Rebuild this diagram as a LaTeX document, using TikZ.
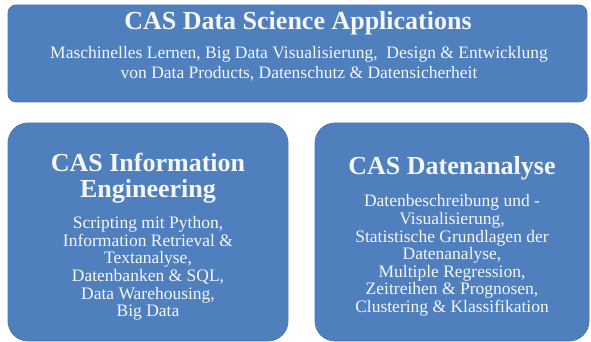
\documentclass[tikz,border=0pt]{standalone}
\usepackage{fontspec}
\setmainfont{Liberation Serif}
\definecolor{boxblue}{HTML}{4F80BD}
\definecolor{boxblueD}{HTML}{4A7AB6}
\definecolor{txt}{HTML}{F4F6FA}
\begin{document}
\begin{tikzpicture}[x=1pt,y=1pt,
  panel/.style={fill=boxblue, draw=boxblueD, line width=0.8pt},
  title/.style={text=txt, font=\bfseries\fontsize{26}{26}\selectfont, align=center, inner sep=0pt},
  body/.style={text=txt, font=\fontsize{17.5}{17.6}\selectfont, align=center, inner sep=0pt}]
\useasboundingbox (0,0) rectangle (591,-342);
\fill[white] (0,0) rectangle (591,-342);
\draw[panel, rounded corners=8pt] (8,-5) rectangle (587,-102);
\draw[panel, rounded corners=20pt] (8,-123) rectangle (288,-341);
\draw[panel, rounded corners=20pt] (315,-123) rectangle (589,-341);
\node[title] (t1) at (298,-23) {CAS Data Science Applications};
\node[body, font=\fontsize{17.5}{20}\selectfont] (b1) at (299,-64) {Maschinelles Lernen, Big Data Visualisierung,\ \ Design \& Entwicklung\\von Data Products, Datenschutz \& Datensicherheit};
\node[title] (t2) at (148,-178) {CAS Information\\Engineering};
\node[body] (b2) at (148,-268.5) {Scripting mit Python,\\Information Retrieval \&\\Textanalyse,\\Datenbanken \& SQL,\\Data Warehousing,\\Big Data};
\node[title] (t3) at (452,-168) {CAS Datenanalyse};
\node[body] (b3) at (452,-255.5) {Datenbeschreibung und -\\Visualisierung,\\Statistische Grundlagen der\\Datenanalyse,\\Multiple Regression,\\Zeitreihen \& Prognosen,\\Clustering \& Klassifikation};
\end{tikzpicture}
\end{document}
